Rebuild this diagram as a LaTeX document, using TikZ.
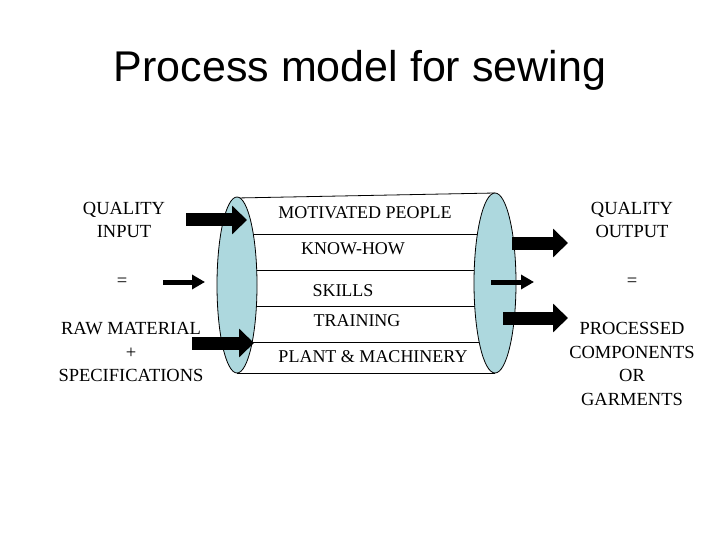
\documentclass[tikz,border=0pt]{standalone}
\usepackage{fontspec}
\setmainfont{Liberation Serif}
\newfontfamily\titlefont{Liberation Sans}
\usetikzlibrary{arrows.meta,shapes.geometric}
\definecolor{cyl}{RGB}{173,216,222}
\begin{document}
\begin{tikzpicture}[x=1pt,y=-1pt,
  side/.style={font=\fontsize{18.5}{23.5}\selectfont, align=center, inner sep=0pt},
  inner/.style={font=\fontsize{18}{20}\selectfont},
  big/.style={line width=13pt, -{Triangle[length=15pt,width=28pt]}},
  small/.style={line width=5pt, -{Triangle[length=13pt,width=14pt]}},
  ell/.style={draw, fill=cyl, line width=0.8pt, ellipse, inner sep=0pt}]
\useasboundingbox (0,0) rectangle (720,540);
\node[font=\titlefont\fontsize{43}{48}\selectfont] (title) at (360,70) {Process model for sewing};
% cylinder lines
\coordinate (lt) at (237,198); \coordinate (rt) at (495,193);
\coordinate (lb) at (237,373); \coordinate (rb) at (495,373);
\draw[line width=0.8pt] (lt) -- (rt);
\draw[line width=0.8pt] (lb) -- (rb);
\foreach \y in {234,270,306,342} \draw[line width=0.8pt] (250,\y) -- (480,\y);
\node[ell, minimum width=40pt, minimum height=176pt] (le) at (237,285) {};
\node[ell, minimum width=42pt, minimum height=180pt] (re) at (495,283) {};
\node[inner] (mp) at (365,213) {MOTIVATED PEOPLE};
\node[inner] (kh) at (353,249) {KNOW-HOW};
\node[inner] (sk) at (343,291) {SKILLS};
\node[inner] (tr) at (357,321) {TRAINING};
\node[inner] (pm) at (373,357) {PLANT \& MACHINERY};
% side texts
\node[side] (qi) at (124,220) {QUALITY\\INPUT};
\node[side] (eq1) at (122,282) {=};
\node[side] (rm) at (131,352) {RAW MATERIAL\\+\\SPECIFICATIONS};
\node[side] (qo) at (632,220) {QUALITY\\OUTPUT};
\node[side] (eq2) at (632,282) {=};
\node[side] (pc) at (632,364) {PROCESSED\\COMPONENTS\\OR\\GARMENTS};
% arrows
\coordinate (a1s) at (186,220); \coordinate (a1e) at (247,220);
\coordinate (a2s) at (163,282); \coordinate (a2e) at (205,282);
\coordinate (a3s) at (192,343); \coordinate (a3e) at (254,343);
\coordinate (b1s) at (512,243); \coordinate (b1e) at (568,243);
\coordinate (b2s) at (491,282); \coordinate (b2e) at (534,282);
\coordinate (b3s) at (503,318); \coordinate (b3e) at (568,318);
\draw[big] (a1s) -- (a1e);
\draw[small] (a2s) -- (a2e);
\draw[big] (a3s) -- (a3e);
\draw[big] (b1s) -- (b1e);
\draw[small] (b2s) -- (b2e);
\draw[big] (b3s) -- (b3e);
\end{tikzpicture}
\end{document}
